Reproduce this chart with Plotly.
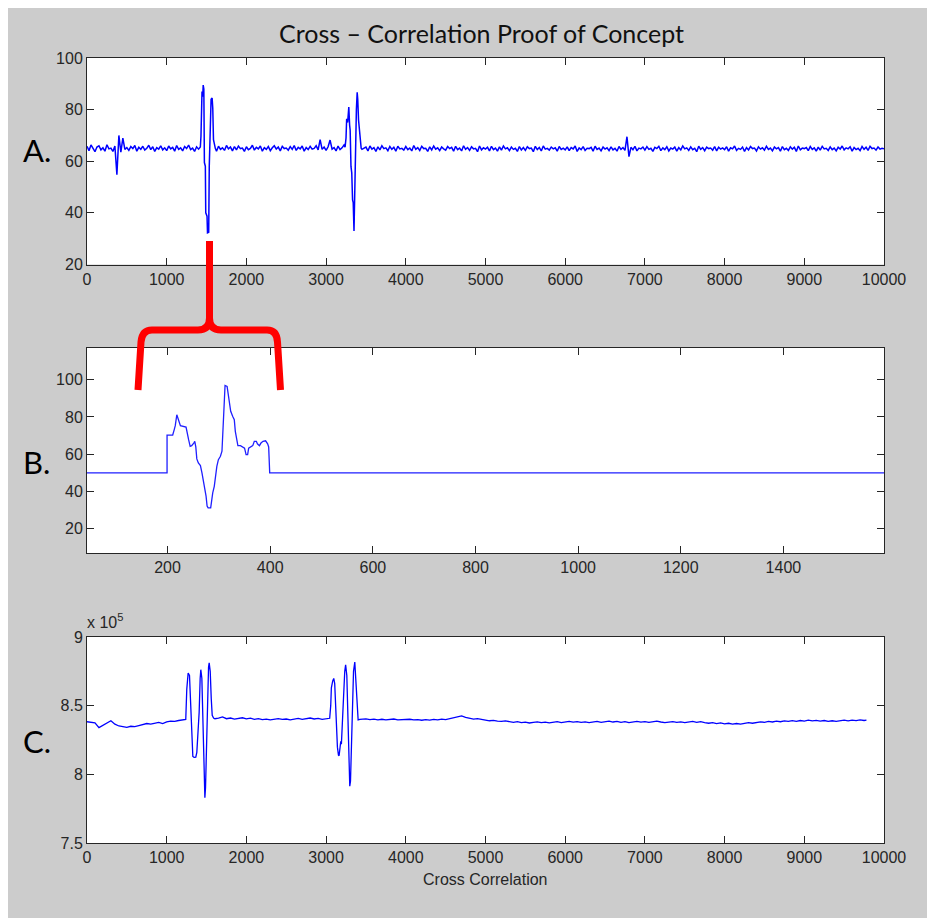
import plotly.graph_objects as go

# ---------------- data ----------------
A_STEP = 25
A_BASE = [
    65.8, 64.1, 66.3, 64.9, 63.7, 65.5, 66.0, 64.4, 65.2, 63.9, 66.4, 64.8, 65.1, 63.8, 65.9, 54.8, 70.0, 63.5, 69.0, 64.6,
    65.3, 64.2, 65.7, 64.9, 66.1, 63.9, 65.4, 64.6, 65.8, 64.3, 65.0, 66.2, 64.5, 65.6, 63.8, 65.3, 64.7, 66.0, 64.4, 65.2,
    64.1, 65.9, 64.8, 65.4, 63.9, 66.1, 64.6, 65.2, 64.0, 65.7, 64.9, 66.3, 64.5, 65.1, 63.8, 65.6, 64.7, 65.9, 64.3, 65.0,
    65.4, 64.1, 66.0, 64.7, 65.3, 63.9, 65.8, 64.6, 65.2, 64.2, 66.1, 64.8, 65.5, 64.0, 65.7, 64.4, 65.9, 64.9, 65.1, 63.8,
    65.6, 64.5, 65.0, 66.2, 64.3, 65.4, 64.8, 65.9, 63.9, 65.3, 64.6, 65.7, 64.1, 65.2, 66.0, 64.7, 65.5, 64.0, 65.8, 64.9,
    65.1, 64.3, 65.7, 64.6, 66.1, 64.2, 65.4, 64.8, 65.9, 63.9, 65.3, 64.5, 65.8, 64.7, 65.0, 66.0, 64.4, 68.4, 64.6, 65.5,
    64.2, 65.6, 68.2, 64.7, 65.3, 64.0, 65.9, 64.5, 65.2, 66.3, 64.8, 65.4, 64.1, 65.7, 64.9, 65.2, 64.3, 65.8, 64.6, 65.1,
    65.5, 64.0, 65.9, 64.7, 65.3, 63.8, 65.6, 64.4, 66.0, 64.9, 65.2, 64.1, 65.7, 64.6, 65.4, 63.9, 65.8, 64.8, 65.0, 64.3,
    65.7, 64.5, 65.1, 64.0, 66.1, 64.6, 65.3, 64.2, 65.8, 64.9, 65.0, 63.8, 65.6, 64.4, 65.9, 64.7, 65.2, 64.1, 65.5, 64.8,
    64.3, 65.7, 64.9, 65.4, 63.9, 65.8, 64.5, 65.1, 64.0, 66.0, 64.6, 65.3, 64.2, 65.6, 64.8, 65.0, 63.7, 65.9, 64.4, 65.2,
    64.7, 65.4, 64.0, 65.8, 64.5, 65.1, 63.9, 65.6, 64.3, 65.9, 64.8, 65.2, 64.1, 65.5, 64.6, 65.0, 63.8, 65.7, 64.4, 65.3,
    64.2, 65.6, 64.9, 65.1, 63.7, 65.8, 64.5, 65.3, 64.0, 65.9, 64.7, 65.0, 64.3, 65.5, 64.8, 65.2, 63.9, 65.7, 64.6, 65.1,
    64.4, 65.6, 64.1, 65.3, 64.8, 65.9, 63.8, 65.2, 64.5, 65.7, 64.2, 65.0, 64.9, 65.4, 63.9, 65.8, 64.6, 65.1, 64.0, 65.5,
    64.7, 65.2, 64.1, 65.6, 64.4, 65.0, 63.9, 65.7, 64.6, 65.3, 64.2, 69.5, 61.8, 65.4, 64.5, 65.8, 64.0, 65.1, 64.8, 65.5,
    64.3, 65.7, 64.6, 65.0, 63.8, 65.4, 64.9, 65.8, 64.1, 65.2, 64.5, 65.6, 64.0, 65.1, 64.7, 65.5, 63.9, 65.3, 64.4, 65.9,
    64.8, 65.2, 64.2, 65.6, 64.5, 65.0, 63.7, 65.8, 64.6, 65.3, 64.1, 65.5, 64.9, 65.1, 64.3, 65.7, 64.0, 65.4, 64.7, 65.2,
    64.5, 65.6, 63.9, 65.2, 64.8, 65.9, 64.2, 65.0, 64.6, 65.5, 63.8, 65.3, 64.4, 65.7, 64.9, 65.1, 64.0, 65.6, 64.7, 65.2,
    64.3, 65.8, 64.6, 65.1, 64.0, 65.5, 64.8, 65.3, 63.9, 65.7, 64.5, 65.0, 64.2, 65.6, 64.7, 65.4, 63.8, 65.9, 64.4, 65.1,
    64.9, 65.3, 64.1, 65.7, 64.6, 65.2, 63.9, 65.5, 64.3, 65.8, 64.8, 65.0, 64.2, 65.6, 64.5, 65.1, 64.0, 65.4, 64.7, 65.9,
    64.4, 65.2, 64.8, 65.6, 63.9, 65.3, 64.5, 65.0, 64.1, 65.7, 64.6, 65.4, 64.2, 65.8, 64.9, 65.1, 64.3, 65.5, 64.7, 65.0,
    64.8,
]
A_EV1_X = [1422, 1430, 1443, 1452, 1458, 1466, 1473, 1485, 1490, 1500, 1506, 1512, 1527, 1534, 1544, 1550, 1557, 1570, 1578, 1587, 1598, 1610]
A_EV1_Y = [65.5, 69.7, 87.0, 85.0, 89.5, 88.0, 59.5, 58.0, 40.0, 38.7, 38.7, 32.3, 32.5, 58.0, 68.0, 80.5, 84.0, 84.5, 80.5, 68.4, 66.5, 65.0]
A_EV2_X = [3238, 3250, 3258, 3270, 3285, 3295, 3302, 3312, 3322, 3332, 3340, 3350, 3358, 3366, 3372, 3380, 3390, 3397, 3407, 3415, 3428, 3440]
A_EV2_Y = [65.5, 69.0, 76.5, 75.0, 81.0, 74.0, 72.0, 58.0, 55.5, 45.0, 44.0, 33.0, 45.0, 60.0, 75.5, 80.0, 86.7, 84.0, 76.0, 72.5, 67.0, 65.0]

B_X = [43, 199, 199, 210, 213, 215, 218, 220, 223, 225, 236, 239, 241, 244, 247, 251, 253, 255, 257, 260,
       264, 267, 270, 273, 275, 277, 279, 284, 286, 288, 291, 293, 296, 299, 303, 306, 308, 310, 312, 316,
       318, 321, 323, 327, 330, 332, 335, 337, 342, 347, 350, 353, 356, 358, 362, 366, 369, 373, 375, 379,
       382, 386, 391, 395, 397, 399, 1596]
B_Y = [50, 50, 70.3, 70.3, 73.2, 75.3, 81.2, 79.4, 76.7, 75.3, 74.6, 71.4, 67.8, 64.2, 64.6, 66.0, 66.9, 63.9, 57.5, 55.3,
       53.9, 50.0, 45.5, 40.2, 37.5, 32.2, 31.2, 31.2, 35.7, 39.3, 42.8, 48.2, 53.5, 57.1, 58.9, 61.6, 75.9, 86.6, 96.9, 96.4,
       91.9, 85.7, 83.0, 80.3, 78.5, 72.3, 66.9, 64.6, 64.6, 63.9, 63.3, 59.8, 59.8, 63.3, 63.9, 64.6, 66.9, 66.9, 65.6, 64.6,
       66.0, 66.9, 67.2, 65.6, 63.9, 50.0, 50.0]

C_STEP = 50
C_BASE = [  # x 10^5
    8.383, 8.378, 8.375, 8.340, 8.358, 8.372, 8.390, 8.365, 8.352, 8.348,
    8.342, 8.350, 8.347, 8.355, 8.362, 8.370, 8.365, 8.372, 8.378, 8.370,
    8.382, 8.388, 8.385, 8.392, 8.396, 8.400, 8.400, 8.400, 8.400, 8.400,
    8.400, 8.400, 8.410, 8.410, 8.418, 8.405, 8.410, 8.402, 8.408, 8.412,
    8.404, 8.409, 8.400, 8.406, 8.398, 8.402, 8.396, 8.400, 8.405, 8.400,
    8.403, 8.397, 8.402, 8.408, 8.400, 8.405, 8.410, 8.403, 8.407, 8.400,
    8.405, 8.410, 8.400, 8.400, 8.400, 8.400, 8.400, 8.400, 8.400, 8.400,
    8.404, 8.398, 8.402, 8.397, 8.401, 8.396, 8.400, 8.403, 8.397, 8.400,
    8.398, 8.401, 8.396, 8.399, 8.394, 8.398, 8.395, 8.400, 8.396, 8.402,
    8.398, 8.405, 8.410, 8.418, 8.425, 8.415, 8.410, 8.402, 8.405, 8.398,
    8.395, 8.390, 8.393, 8.387, 8.385, 8.389, 8.382, 8.378, 8.383, 8.376,
    8.380, 8.374, 8.378, 8.382, 8.376, 8.380, 8.375, 8.379, 8.383, 8.377,
    8.381, 8.386, 8.380, 8.384, 8.378, 8.382, 8.376, 8.380, 8.385, 8.379,
    8.383, 8.388, 8.381, 8.385, 8.379, 8.383, 8.377, 8.381, 8.386, 8.380,
    8.384, 8.378, 8.382, 8.387, 8.381, 8.376, 8.380, 8.384, 8.378, 8.382,
    8.377, 8.381, 8.385, 8.379, 8.383, 8.377, 8.372, 8.376, 8.370, 8.374,
    8.368, 8.372, 8.366, 8.370, 8.365, 8.371, 8.376, 8.372, 8.378, 8.382,
    8.379, 8.385, 8.381, 8.387, 8.383, 8.389, 8.385, 8.391, 8.386, 8.392,
    8.388, 8.394, 8.389, 8.393, 8.387, 8.392, 8.386, 8.390, 8.385, 8.391,
    8.394, 8.389, 8.395, 8.391, 8.396, 8.392,
]
C_EV1_X = [1239, 1252, 1260, 1269, 1286, 1294, 1302, 1315, 1328, 1344, 1365, 1378, 1395, 1407, 1420, 1428, 1441, 1454,
           1462, 1470, 1479, 1487, 1500, 1512, 1525, 1533, 1546, 1559, 1571, 1588, 1605]
C_EV1_Y = [8.400, 8.620, 8.700, 8.738, 8.720, 8.600, 8.450, 8.220, 8.130, 8.124, 8.125, 8.160, 8.300, 8.450, 8.700,
           8.762, 8.700, 8.400, 8.150, 7.950, 7.830, 7.900, 8.250, 8.550, 8.780, 8.812, 8.750, 8.550, 8.430, 8.410, 8.405]
C_EV2_X = [3045, 3058, 3066, 3083, 3096, 3108, 3121, 3134, 3142, 3155, 3163, 3176, 3184, 3192, 3205, 3218, 3234, 3245,
           3260, 3272, 3285, 3297, 3306, 3318, 3331, 3344, 3360, 3373, 3386, 3402, 3423]
C_EV2_Y = [8.408, 8.500, 8.630, 8.680, 8.698, 8.660, 8.450, 8.250, 8.198, 8.140, 8.136, 8.200, 8.240, 8.220, 8.350,
           8.550, 8.750, 8.797, 8.720, 8.400, 8.100, 7.913, 7.950, 8.250, 8.500, 8.750, 8.817, 8.700, 8.500, 8.396, 8.400]
C_END_X = [9780]
C_END_Y = [8.394]

X_TICKS_AC = [0, 1000, 2000, 3000, 4000, 5000, 6000, 7000, 8000, 9000, 10000]
X_TICKTEXT_AC = ["0", "1000", "2000", "3000", "4000", "5000", "6000", "7000", "8000", "9000", "10000"]
X_TICKS_B = [200, 400, 600, 800, 1000, 1200, 1400]
Y_TICKS_AB = [20, 40, 60, 80, 100]
Y_TICKS_C = [7.5, 8, 8.5, 9]
Y_TICKTEXT_C = ["7.5", "8", "8.5", "9"]


def merge(step, base, events):
    pts = []
    for i, y in enumerate(base):
        x = i * step
        if any(ex[0] <= x <= ex[-1] for ex, _ in events):
            continue
        pts.append((x, y))
    for ex, ey in events:
        pts += list(zip(ex, ey))
    pts.sort(key=lambda p: p[0])
    return [p[0] for p in pts], [p[1] for p in pts]


a_x, a_y = merge(A_STEP, A_BASE, [(A_EV1_X, A_EV1_Y), (A_EV2_X, A_EV2_Y)])
c_x, c_y = merge(C_STEP, C_BASE, [(C_EV1_X, C_EV1_Y), (C_EV2_X, C_EV2_Y), (C_END_X, C_END_Y)])

# ---------------- layout geometry (page has an 8px body margin) ----------------
OFF = 8
W, H = 935 - OFF, 918 - OFF
PL, PR, PT, PB = 87, 884, 58, 843          # plot block edges in page pixels
ML, MR, MT, MB = PL - OFF, 935 - PR, PT - OFF, 918 - PB
PW = PR - PL
PH = PB - PT


def px_x(x):
    return (x - PL) / PW


def px_y(y):
    return (PB - y) / PH


TICK_FONT = dict(family="Liberation Sans, Arial, sans-serif", size=16, color="#262626")
LABEL_FONT = "Lato, Calibri, Carlito, Open Sans, sans-serif"
LINE = "#0000ff"

fig = go.Figure()
fig.add_trace(go.Scatter(x=a_x, y=a_y, mode="lines", line=dict(color=LINE, width=1.5), xaxis="x", yaxis="y"))
fig.add_trace(go.Scatter(x=B_X, y=B_Y, mode="lines", line=dict(color="#1f1fff", width=1.3), xaxis="x2", yaxis="y2"))
fig.add_trace(go.Scatter(x=c_x, y=c_y, mode="lines", line=dict(color=LINE, width=1.3), xaxis="x3", yaxis="y3"))


def ax(**kw):
    d = dict(showline=True, linecolor="#262626", linewidth=1, mirror="ticks", ticks="inside",
             ticklen=7, tickcolor="#262626", tickwidth=1, showgrid=False, zeroline=False,
             tickfont=TICK_FONT, fixedrange=True)
    d.update(kw)
    return d


fig.update_layout(
    width=W, height=H,
    margin=dict(l=ML, r=MR, t=MT, b=MB, pad=0),
    paper_bgcolor="#cccccc", plot_bgcolor="#ffffff",
    showlegend=False,
    xaxis=ax(domain=[0, 1], range=[0, 10000], tickvals=X_TICKS_AC, ticktext=X_TICKTEXT_AC, anchor="y"),
    yaxis=ax(domain=[px_y(264.5), 1], range=[20, 100], tickvals=Y_TICKS_AB, anchor="x"),
    xaxis2=ax(domain=[0, 1], range=[43, 1596], tickvals=X_TICKS_B, anchor="y2"),
    yaxis2=ax(domain=[px_y(553), px_y(348)], range=[7, 117], tickvals=Y_TICKS_AB, anchor="x2"),
    xaxis3=ax(domain=[0, 1], range=[0, 10000], tickvals=X_TICKS_AC, ticktext=X_TICKTEXT_AC, anchor="y3"),
    yaxis3=ax(domain=[0, px_y(637)], range=[7.5, 9], tickvals=Y_TICKS_C, ticktext=Y_TICKTEXT_C, anchor="x3"),
)

ann = [
    dict(text="Cross – Correlation Proof of Concept", x=px_x(481), y=px_y(33), xref="paper", yref="paper",
         xanchor="center", yanchor="middle", showarrow=False, font=dict(family=LABEL_FONT, size=25, color="#111111")),
    dict(text="Cross Correlation", x=px_x(485), y=px_y(879), xref="paper", yref="paper",
         xanchor="center", yanchor="middle", showarrow=False, font=TICK_FONT),
    dict(text="x 10<sup>5</sup>", x=px_x(85), y=px_y(621), xref="paper", yref="paper",
         xanchor="left", yanchor="middle", showarrow=False, font=dict(TICK_FONT, size=16)),
]
for lab, yy in (("A.", 150), ("B.", 462), ("C.", 741)):
    ann.append(dict(text=lab, x=px_x(37), y=px_y(yy), xref="paper", yref="paper", xanchor="center",
                    yanchor="middle", showarrow=False, font=dict(family=LABEL_FONT, size=31, color="#000000")))
fig.update_layout(annotations=ann)


def P(x, y):
    return f"{px_x(x):.5f},{px_y(y):.5f}"


brace = (
    f"M{P(209.5, 241)} L{P(209.5, 318)} Q{P(209.5, 330)} {P(198, 330)} L{P(152, 330)} "
    f"Q{P(142, 330)} {P(141, 342)} L{P(138, 390)} "
    f"M{P(209.5, 318)} Q{P(209.5, 330)} {P(221, 330)} L{P(267, 330)} "
    f"Q{P(277, 330)} {P(277.5, 342)} L{P(280.5, 390)}"
)
fig.update_layout(shapes=[
    dict(type="path", xref="paper", yref="paper", path=brace, line=dict(color="#ff0000", width=7), layer="above"),
])

fig.write_html("out.html")
